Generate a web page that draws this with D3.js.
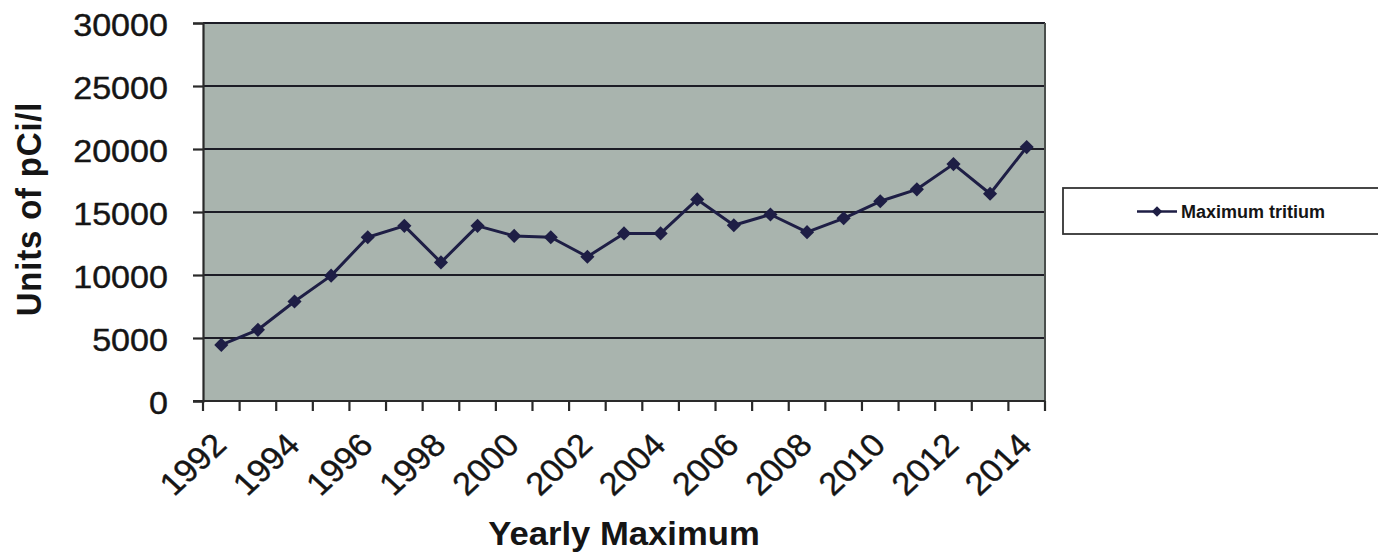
<!DOCTYPE html>
<html>
<head>
<meta charset="utf-8">
<script src="https://cdn.jsdelivr.net/npm/d3@7"></script>
<style>
  html, body { margin: 0; padding: 0; background: #ffffff; }
  svg { display: block; }
  text { font-family: "Liberation Sans", Arial, sans-serif; fill: #151515; }
</style>
</head>
<body>
<svg id="chart" width="1378" height="557"></svg>
<script>
// Yearly maximum tritium concentration (pCi/l)
const years = ["1992","1993","1994","1995","1996","1997","1998","1999","2000","2001","2002",
               "2003","2004","2005","2006","2007","2008","2009","2010","2011","2012","2013","2014"];
const maxTritium = [4450, 5650, 7900, 9950, 13000, 13900, 11000, 13900, 13100, 13000, 11450,
                    13300, 13300, 16000, 13950, 14800, 13400, 14500, 15850, 16800, 18800, 16450, 20150];
const yTicks = [0, 5000, 10000, 15000, 20000, 25000, 30000];
const xTickLabels = ["1992","1994","1996","1998","2000","2002","2004","2006","2008","2010","2012","2014"];
const seriesName = "Maximum tritium";
const yTitle = "Units of pCi/l";
const xTitle = "Yearly Maximum";

const svg = d3.select("#chart");
const plot = { left: 203, right: 1045, top: 23, bottom: 401 };
const ink = "#1e1e45";

const x = d3.scaleBand().domain(years).range([plot.left, plot.right]).padding(0);
const y = d3.scaleLinear().domain([0, 30000]).range([plot.bottom, plot.top]);
const cx = d => x(d) + x.bandwidth() / 2;

// plot background
svg.append("rect")
  .attr("x", plot.left).attr("y", plot.top)
  .attr("width", plot.right - plot.left).attr("height", plot.bottom - plot.top)
  .attr("fill", "#a9b4ae");

// horizontal gridlines
svg.append("g").selectAll("line").data(yTicks.filter(v => v > 0)).join("line")
  .attr("x1", plot.left).attr("x2", plot.right)
  .attr("y1", d => y(d)).attr("y2", d => y(d))
  .attr("stroke", "#1c1c26").attr("stroke-width", 2.2);

// right frame edge
svg.append("line")
  .attr("x1", plot.right).attr("x2", plot.right)
  .attr("y1", plot.top).attr("y2", plot.bottom)
  .attr("stroke", "#4a4f4c").attr("stroke-width", 2);

// y axis
const yAxis = svg.append("g")
  .attr("transform", `translate(${plot.left},0)`)
  .call(d3.axisLeft(y).tickValues(yTicks).tickSize(10).tickPadding(0).tickFormat(d3.format("d")));
yAxis.select(".domain").attr("stroke", "#2a2a2a").attr("stroke-width", 2.2);
yAxis.selectAll(".tick line").attr("stroke", "#2a2a2a").attr("stroke-width", 2.2);
yAxis.selectAll(".tick text")
  .attr("x", null).attr("dy", null)
  .attr("text-anchor", "end")
  .attr("font-size", 31)
  .attr("fill", "#151515")
  .attr("stroke", "#151515").attr("stroke-width", 0.4)
  .attr("transform", "translate(-35,12) scale(1.1,1)");

// x axis: ticks on category boundaries
const xAxisG = svg.append("g");
xAxisG.append("line")
  .attr("x1", plot.left - 10).attr("x2", plot.right)
  .attr("y1", plot.bottom).attr("y2", plot.bottom)
  .attr("stroke", "#2a2a2a").attr("stroke-width", 2.2);
const boundaries = years.map(d => x(d)).concat([plot.right]);
xAxisG.selectAll("line.tk").data(boundaries).join("line")
  .attr("class", "tk")
  .attr("x1", d => d).attr("x2", d => d)
  .attr("y1", plot.bottom).attr("y2", plot.bottom + 10)
  .attr("stroke", "#2a2a2a").attr("stroke-width", 2.2);
xAxisG.selectAll("text").data(xTickLabels).join("text")
  .attr("text-anchor", "end")
  .attr("font-size", 32)
  .attr("stroke", "#151515").attr("stroke-width", 0.4)
  .attr("transform", d => `translate(${cx(d) + 7},${plot.bottom + 46}) scale(1.08,1) rotate(-45)`)
  .text(d => d);

// series line and markers
const pts = years.map((d, i) => [cx(d), y(maxTritium[i])]);
svg.append("path")
  .attr("d", d3.line()(pts))
  .attr("fill", "none")
  .attr("stroke", ink).attr("stroke-width", 3)
  .attr("stroke-linejoin", "round");
const diamond = d3.symbol().type(d3.symbolSquare).size(100);
svg.append("g").selectAll("path").data(pts).join("path")
  .attr("d", diamond)
  .attr("transform", d => `translate(${d[0]},${d[1]}) rotate(45)`)
  .attr("fill", ink);

// axis titles
svg.append("text")
  .attr("text-anchor", "middle")
  .attr("font-size", 33).attr("font-weight", "bold")
  .attr("transform", `translate(${(plot.left + plot.right) / 2},545) scale(1.05,1)`)
  .text(xTitle);
svg.append("text")
  .attr("text-anchor", "middle")
  .attr("font-size", 33).attr("font-weight", "bold")
  .attr("letter-spacing", 0.8)
  .attr("transform", `translate(41,${(plot.top + plot.bottom) / 2 - 3}) scale(1.08,1) rotate(-90)`)
  .text(yTitle);

// legend
const lg = svg.append("g");
lg.append("rect")
  .attr("x", 1063).attr("y", 188).attr("width", 330).attr("height", 46)
  .attr("fill", "#ffffff").attr("stroke", "#333333").attr("stroke-width", 1.8);
lg.append("line")
  .attr("x1", 1137).attr("x2", 1177).attr("y1", 211.5).attr("y2", 211.5)
  .attr("stroke", ink).attr("stroke-width", 2.5);
lg.append("path")
  .attr("d", d3.symbol().type(d3.symbolSquare).size(55))
  .attr("transform", "translate(1157,211.5) rotate(45)")
  .attr("fill", ink);
lg.append("text")
  .attr("x", 1181).attr("y", 218)
  .attr("font-size", 18).attr("font-weight", "bold")
  .text(seriesName);
</script>
</body>
</html>
